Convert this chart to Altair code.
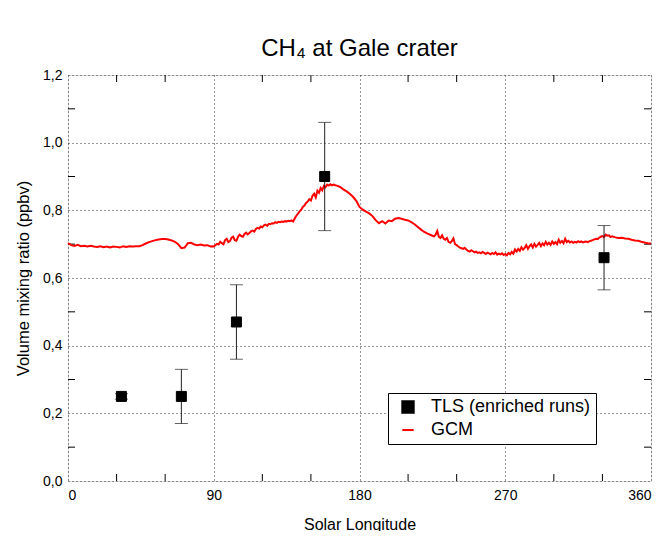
import altair as alt
import pandas as pd

# ---------------- data ----------------
tls_ls = [33, 70, 104, 158.5, 331]
tls_val = [0.25, 0.25, 0.47, 0.90, 0.66]
tls_lo = [0.242, 0.17, 0.36, 0.74, 0.565]
tls_hi = [0.258, 0.33, 0.58, 1.06, 0.755]

gcm_ls = (list(range(0, 89, 2)) + list(range(89, 166)) + list(range(166, 225, 2))
          + list(range(225, 337)) + list(range(338, 361, 2)))
gcm_val = [
    # 0..88 step 2
    0.703, 0.697, 0.695, 0.698, 0.694, 0.695, 0.693, 0.695, 0.693, 0.692,
    0.694, 0.691, 0.693, 0.690, 0.693, 0.692, 0.690, 0.694, 0.692, 0.694,
    0.693, 0.694, 0.694, 0.697, 0.702, 0.706, 0.709, 0.712, 0.714, 0.715,
    0.715, 0.714, 0.711, 0.707, 0.700, 0.688, 0.690, 0.703, 0.704, 0.699,
    0.697, 0.699, 0.696, 0.697, 0.693,
    # 89..165 step 1
    0.694, 0.693, 0.697, 0.701, 0.699, 0.707, 0.703, 0.700, 0.712, 0.716,
    0.706, 0.709, 0.719, 0.722, 0.712, 0.710, 0.722, 0.728, 0.724, 0.722,
    0.730, 0.734, 0.729, 0.733, 0.738, 0.740, 0.737, 0.745, 0.748, 0.746,
    0.752, 0.750, 0.756, 0.758, 0.754, 0.760, 0.759, 0.762, 0.761, 0.765,
    0.763, 0.766, 0.765, 0.767, 0.766, 0.768, 0.767, 0.769, 0.768, 0.770,
    0.767, 0.776, 0.784, 0.790, 0.797, 0.802, 0.810, 0.814, 0.822, 0.826,
    0.833, 0.829, 0.843, 0.849, 0.838, 0.858, 0.852, 0.866, 0.859, 0.872,
    0.868, 0.876, 0.873, 0.877, 0.874, 0.876, 0.874,
    # 166..224 step 2
    0.873, 0.869, 0.862, 0.856, 0.849, 0.840, 0.828, 0.810, 0.802, 0.796,
    0.791, 0.783, 0.771, 0.762, 0.768, 0.761, 0.770, 0.768, 0.775, 0.777,
    0.775, 0.772, 0.770, 0.765, 0.759, 0.751, 0.743, 0.736, 0.731, 0.727,
    # 225..336 step 1
    0.725, 0.723, 0.728, 0.739, 0.722, 0.718, 0.726, 0.716, 0.713, 0.718,
    0.707, 0.704, 0.709, 0.717, 0.700, 0.697, 0.693, 0.690, 0.688, 0.686,
    0.689, 0.684, 0.680, 0.678, 0.682, 0.679, 0.676, 0.678, 0.674, 0.676,
    0.673, 0.677, 0.674, 0.671, 0.675, 0.673, 0.670, 0.674, 0.671, 0.676,
    0.669, 0.672, 0.670, 0.673, 0.668, 0.671, 0.667, 0.674, 0.670, 0.677,
    0.672, 0.684, 0.678, 0.686, 0.680, 0.691, 0.684, 0.689, 0.697, 0.686,
    0.694, 0.699, 0.690, 0.701, 0.693, 0.698, 0.704, 0.694, 0.702, 0.697,
    0.707, 0.699, 0.704, 0.698, 0.708, 0.701, 0.706, 0.700, 0.713, 0.704,
    0.709, 0.703, 0.716, 0.706, 0.710, 0.705, 0.708, 0.704, 0.707, 0.705,
    0.709, 0.706, 0.708, 0.705, 0.707, 0.708, 0.706, 0.709, 0.710, 0.712,
    0.714, 0.716, 0.715, 0.719, 0.722, 0.724, 0.721, 0.728, 0.725, 0.726,
    0.721, 0.723,
    # 338..360 step 2
    0.720, 0.718, 0.719, 0.717, 0.716, 0.713, 0.711, 0.710, 0.707, 0.705,
    0.703, 0.702,
]

x_major = [0, 90, 180, 270, 360]
x_minor = [30, 60, 120, 150, 210, 240, 300, 330]
y_major = [0.0, 0.2, 0.4, 0.6, 0.8, 1.0, 1.2]
y_minor = [0.1, 0.3, 0.5, 0.7, 0.9, 1.1]

series_names = ["TLS (enriched runs)", "GCM"]

FONT = "Liberation Sans"
W, H = 583, 406

tls_df = pd.DataFrame({"ls": tls_ls, "val": tls_val, "lo": tls_lo, "hi": tls_hi,
                       "series": [series_names[0]] * len(tls_ls)})
gcm_df = pd.DataFrame({"ls": gcm_ls, "val": gcm_val})
xminor_df = pd.DataFrame({"t": x_minor})
yminor_df = pd.DataFrame({"t": y_minor})

xscale = alt.Scale(domain=[0, 360], nice=False, zero=False)
yscale = alt.Scale(domain=[0, 1.2], nice=False, zero=False)

xaxis = alt.Axis(values=x_major, title="Solar Longitude", grid=True, gridDash=[1, 3],
                 gridColor="#333", gridWidth=1, ticks=False, domain=False,
                 labelFont=FONT, labelFontSize=14, labelColor="black", labelPadding=7,
                 titleFont=FONT, titleFontSize=16, titleFontWeight="normal",
                 titleColor="black", titlePadding=14, format="d")
yaxis = alt.Axis(values=y_major, title="Volume mixing ratio (ppbv)", grid=True,
                 gridDash=[1, 3], gridColor="#333", gridWidth=1, ticks=False,
                 domain=False, labelFont=FONT, labelFontSize=14, labelColor="black",
                 labelPadding=6,
                 labelExpr="replace(format(datum.value, '.1f'), '.', ',')",
                 titleFont=FONT, titleFontSize=16.5, titleFontWeight="normal",
                 titleColor="black", titlePadding=11)

line = alt.Chart(gcm_df).mark_line(color="#ff0000", strokeWidth=2).encode(
    x=alt.X("ls:Q", scale=xscale, axis=xaxis),
    y=alt.Y("val:Q", scale=yscale, axis=yaxis),
)

err = alt.Chart(tls_df).mark_rule(color="#222", strokeWidth=1).encode(
    x="ls:Q", y="lo:Q", y2="hi:Q")
cap_lo = alt.Chart(tls_df).mark_tick(color="#222", thickness=1, size=13,
                                     orient="horizontal").encode(x="ls:Q", y="lo:Q")
cap_hi = alt.Chart(tls_df).mark_tick(color="#222", thickness=1, size=13,
                                     orient="horizontal").encode(x="ls:Q", y="hi:Q")

leg_scale_fill = alt.Scale(domain=series_names, range=["black", "#ff0000"])
leg_scale_shape = alt.Scale(domain=series_names, range=["square", "stroke"])
legend = alt.Legend(orient="none", legendX=320, legendY=318, title=None,
                    labelFont=FONT, labelFontSize=18, labelColor="black",
                    labelLimit=400,
                    symbolSize=130, symbolStrokeWidth=2, strokeColor="black",
                    fillColor="white", padding=5, rowPadding=4, labelOffset=14,
                    symbolOffset=6, cornerRadius=0)

pts = alt.Chart(tls_df).mark_point(filled=True, opacity=1, size=100,
                                   strokeWidth=1).encode(
    x="ls:Q", y="val:Q",
    fill=alt.Fill("series:N", scale=leg_scale_fill, legend=legend),
    stroke=alt.Stroke("series:N", scale=leg_scale_fill, legend=legend),
    shape=alt.Shape("series:N", scale=leg_scale_shape, legend=legend),
)

tick_style = dict(color="black", strokeWidth=1)
t_bottom = alt.Chart(xminor_df).mark_rule(**tick_style).encode(
    x="t:Q", y=alt.value(H), y2=alt.value(H - 7))
t_top = alt.Chart(xminor_df).mark_rule(**tick_style).encode(
    x="t:Q", y=alt.value(0), y2=alt.value(7))
t_left = alt.Chart(yminor_df).mark_rule(**tick_style).encode(
    y="t:Q", x=alt.value(0), x2=alt.value(7))
t_right = alt.Chart(yminor_df).mark_rule(**tick_style).encode(
    y="t:Q", x=alt.value(W), x2=alt.value(W - 7))

chart = alt.layer(
    t_bottom, t_top, t_left, t_right, line, err, cap_lo, cap_hi, pts
).properties(
    width=W, height=H,
    title=alt.Title("CH₄ at Gale crater", font=FONT, fontSize=24,
                    fontWeight="normal", color="black", anchor="middle",
                    frame="group", baseline="alphabetic", offset=-12),
    autosize=alt.AutoSizeParams(type="none"),
    padding={"left": 60, "top": 67, "right": 6, "bottom": 50},
).configure_view(stroke="black", strokeWidth=1).configure(background="white")

chart.save("out.html", embed_options={"renderer": "svg", "actions": False})
